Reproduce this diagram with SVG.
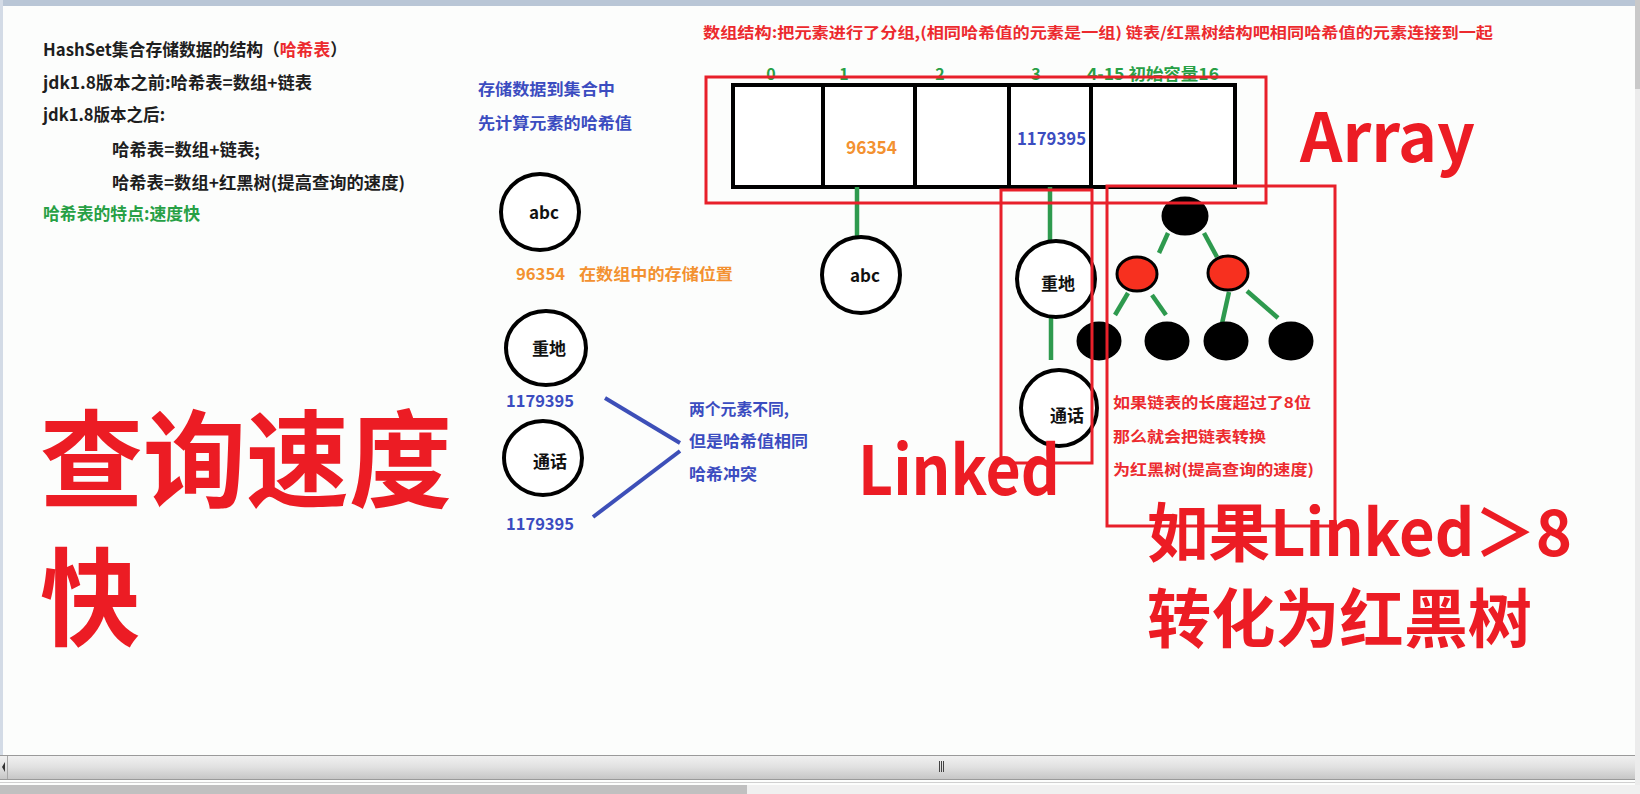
<svg xmlns="http://www.w3.org/2000/svg" width="1640" height="794" viewBox="0 0 1640 794">
<defs>
<style>
text{font-family:"Noto Sans CJK SC","Liberation Sans",sans-serif;font-weight:700}
.dk{fill:#1e1e1e;font-size:17px}
.rd{fill:#ec2a2e}
.gr{fill:#27a045}
.bl{fill:#3b4cc0}
.or{fill:#f39130}
.big{fill:#ec1c24}
.node{fill:#fff;stroke:#000;stroke-width:4}
.blk{fill:#000;stroke:#000;stroke-width:3}
.red{fill:#f7301f;stroke:#000;stroke-width:3}
.gl{stroke:#2e9a4e;stroke-width:4.5;fill:none}
.bline{stroke:#3d4fb8;stroke-width:4;fill:none}
.frame{fill:none;stroke:#e8202a;stroke-width:3}
.ct{font-size:17px;fill:#111;text-anchor:middle}
</style>
<linearGradient id="sb" x1="0" y1="0" x2="0" y2="1">
<stop offset="0" stop-color="#f2f2f2"/>
<stop offset="0.5" stop-color="#e0e0e0"/>
<stop offset="1" stop-color="#c4c4c4"/>
</linearGradient>
</defs>
<rect width="1640" height="794" fill="#fcfdfc"/>
<rect x="0" y="0" width="1640" height="6" fill="#b9c6d6"/>
<rect x="0" y="0" width="3" height="755" fill="#d3dbe6"/>
<rect x="1635" y="0" width="5" height="794" fill="#ececec"/>
<rect x="1635" y="0" width="5" height="89" fill="#c9c9c9"/>
<g id="scrollbar">
<rect x="0" y="755" width="1635" height="25" fill="url(#sb)"/>
<line x1="0" y1="755.5" x2="1635" y2="755.5" stroke="#9a9a9a"/>
<line x1="0" y1="779.5" x2="1635" y2="779.5" stroke="#9a9a9a"/>
<line x1="0" y1="782.5" x2="1635" y2="782.5" stroke="#d0d0d0"/>
<rect x="0" y="785" width="747" height="9" fill="#c0c0c0"/>
<rect x="747" y="785" width="893" height="9" fill="#f0f0f0"/>
<line x1="7.5" y1="756" x2="7.5" y2="779" stroke="#a8a8a8"/>
<polygon points="5,762 2,767 5,772" fill="#333"/>
<line x1="939.5" y1="761" x2="939.5" y2="772" stroke="#444"/>
<line x1="941.5" y1="761" x2="941.5" y2="772" stroke="#444"/>
<line x1="943.5" y1="761" x2="943.5" y2="772" stroke="#444"/>
</g>
<g id="left-notes">
<text class="dk" x="43" y="56" textLength="304" lengthAdjust="spacingAndGlyphs">HashSet集合存储数据的结构（<tspan class="rd">哈希表</tspan>）</text>
<text class="dk" x="43" y="89" textLength="269" lengthAdjust="spacingAndGlyphs">jdk1.8版本之前:哈希表=数组+链表</text>
<text class="dk" x="43" y="121" textLength="122" lengthAdjust="spacingAndGlyphs">jdk1.8版本之后:</text>
<text class="dk" x="112" y="156" textLength="148" lengthAdjust="spacingAndGlyphs">哈希表=数组+链表;</text>
<text class="dk" x="112" y="189" textLength="293" lengthAdjust="spacingAndGlyphs">哈希表=数组+红黑树(提高查询的速度)</text>
<text class="gr" x="43" y="220" font-size="17" textLength="157" lengthAdjust="spacingAndGlyphs">哈希表的特点:速度快</text>
</g>
<g id="big-left">
<text class="big" x="40" y="499" font-size="106" textLength="412" lengthAdjust="spacingAndGlyphs">查询速度</text>
<text class="big" x="40" y="637" font-size="106" textLength="100" lengthAdjust="spacingAndGlyphs">快</text>
</g>
<g id="hash-notes">
<text class="bl" x="478" y="95" font-size="16" textLength="137" lengthAdjust="spacingAndGlyphs">存储数据到集合中</text>
<text class="bl" x="478" y="129" font-size="16" textLength="154" lengthAdjust="spacingAndGlyphs">先计算元素的哈希值</text>
<text class="or" x="516" y="280" font-size="16" textLength="49" lengthAdjust="spacingAndGlyphs">96354</text>
<text class="or" x="579" y="280" font-size="16" textLength="154" lengthAdjust="spacingAndGlyphs">在数组中的存储位置</text>
<text class="bl" x="506" y="407" font-size="16" textLength="68" lengthAdjust="spacingAndGlyphs">1179395</text>
<text class="bl" x="506" y="530" font-size="16" textLength="68" lengthAdjust="spacingAndGlyphs">1179395</text>
<text class="bl" x="689" y="415" font-size="16" textLength="100" lengthAdjust="spacingAndGlyphs">两个元素不同,</text>
<text class="bl" x="689" y="447" font-size="16" textLength="119" lengthAdjust="spacingAndGlyphs">但是哈希值相同</text>
<text class="bl" x="689" y="480" font-size="16" textLength="68" lengthAdjust="spacingAndGlyphs">哈希冲突</text>
</g>
<g id="node-abc-left"><ellipse class="node" cx="540" cy="212" rx="39" ry="38"/><text class="ct" x="544" y="219">abc</text></g>
<g id="node-zhongdi-left"><ellipse class="node" cx="546" cy="348" rx="40" ry="37"/><text class="ct" x="549" y="355">重地</text></g>
<g id="node-tonghua-left"><ellipse class="node" cx="543" cy="458" rx="39" ry="37"/><text class="ct" x="550" y="468">通话</text></g>
<g id="title">
<text class="rd" x="703" y="38" font-size="15" textLength="790" lengthAdjust="spacingAndGlyphs">数组结构:把元素进行了分组,(相同哈希值的元素是一组) 链表/红黑树结构吧相同哈希值的元素连接到一起</text>
</g>
<g id="array">
<g class="gr" font-size="16">
<text x="771" y="80" text-anchor="middle">0</text>
<text x="844" y="80" text-anchor="middle">1</text>
<text x="940" y="80" text-anchor="middle">2</text>
<text x="1036" y="80" text-anchor="middle">3</text>
<text x="1087" y="80" textLength="132" lengthAdjust="spacingAndGlyphs">4-15 初始容量16</text>
</g>
<rect x="733" y="85" width="502" height="102" fill="#fff" stroke="#000" stroke-width="4"/>
<line x1="823" y1="85" x2="823" y2="187" stroke="#000" stroke-width="4"/>
<line x1="915" y1="85" x2="915" y2="187" stroke="#000" stroke-width="4"/>
<line x1="1009" y1="85" x2="1009" y2="187" stroke="#000" stroke-width="4"/>
<line x1="1091" y1="85" x2="1091" y2="187" stroke="#000" stroke-width="4"/>
<text class="or" x="846" y="154" font-size="18" textLength="51" lengthAdjust="spacingAndGlyphs">96354</text>
<text class="bl" x="1017" y="145" font-size="17" textLength="69" lengthAdjust="spacingAndGlyphs">1179395</text>
</g>
<g id="connectors">
<line class="gl" x1="857" y1="187" x2="857" y2="237"/>
<line class="gl" x1="1050" y1="187" x2="1050" y2="241"/>
<line class="gl" x1="1051" y1="317" x2="1051" y2="360"/>
<line class="gl" x1="1168" y1="233" x2="1159" y2="253"/>
<line class="gl" x1="1204" y1="233" x2="1217" y2="257"/>
<line class="gl" x1="1128" y1="293" x2="1115" y2="315"/>
<line class="gl" x1="1152" y1="295" x2="1166" y2="315"/>
<line class="gl" x1="1229" y1="292" x2="1221" y2="328"/>
<line class="gl" x1="1247" y1="291" x2="1278" y2="318"/>
<line class="bline" x1="605" y1="398" x2="680" y2="443"/>
<line class="bline" x1="593" y1="517" x2="680" y2="451"/>
</g>
<g id="node-abc-right"><ellipse class="node" cx="861" cy="275" rx="39" ry="38"/><text class="ct" x="865" y="282">abc</text></g>
<g id="node-zhongdi-right"><ellipse class="node" cx="1056" cy="279" rx="39" ry="38"/><text class="ct" x="1058" y="290">重地</text></g>
<g id="node-tonghua-right"><ellipse class="node" cx="1059" cy="408" rx="38" ry="38"/><text class="ct" x="1067" y="422">通话</text></g>
<g id="tree">
<ellipse id="t-root" class="blk" cx="1185" cy="216" rx="22" ry="18"/>
<ellipse id="t-left" class="red" cx="1137" cy="274" rx="20" ry="17"/>
<ellipse id="t-right" class="red" cx="1228" cy="273" rx="20" ry="17"/>
<ellipse id="t-l1" class="blk" cx="1099" cy="341" rx="21" ry="18"/>
<ellipse id="t-l2" class="blk" cx="1167" cy="341" rx="21" ry="18"/>
<ellipse id="t-l3" class="blk" cx="1226" cy="341" rx="21" ry="18"/>
<ellipse id="t-l4" class="blk" cx="1291" cy="341" rx="21" ry="18"/>
</g>
<g id="tree-notes">
<text class="rd" x="1113" y="408" font-size="15" textLength="198" lengthAdjust="spacingAndGlyphs">如果链表的长度超过了8位</text>
<text class="rd" x="1113" y="442" font-size="15" textLength="153" lengthAdjust="spacingAndGlyphs">那么就会把链表转换</text>
<text class="rd" x="1113" y="475" font-size="15" textLength="201" lengthAdjust="spacingAndGlyphs">为红黑树(提高查询的速度)</text>
</g>
<g id="frames">
<rect class="frame" x="706" y="77" width="560" height="126"/>
<rect class="frame" x="1001" y="190" width="91" height="273"/>
<rect class="frame" x="1107" y="186" width="228" height="340"/>
</g>
<g id="big-labels">
<text class="big" x="1300" y="162" font-size="68" textLength="175" lengthAdjust="spacingAndGlyphs">Array</text>
<text class="big" x="858" y="495" font-size="68" textLength="202" lengthAdjust="spacingAndGlyphs">Linked</text>
<text class="big" x="1147" y="556" font-size="64" textLength="425" lengthAdjust="spacingAndGlyphs">如果Linked＞8</text>
<text class="big" x="1147" y="642" font-size="64" textLength="385" lengthAdjust="spacingAndGlyphs">转化为红黑树</text>
</g>
</svg>
